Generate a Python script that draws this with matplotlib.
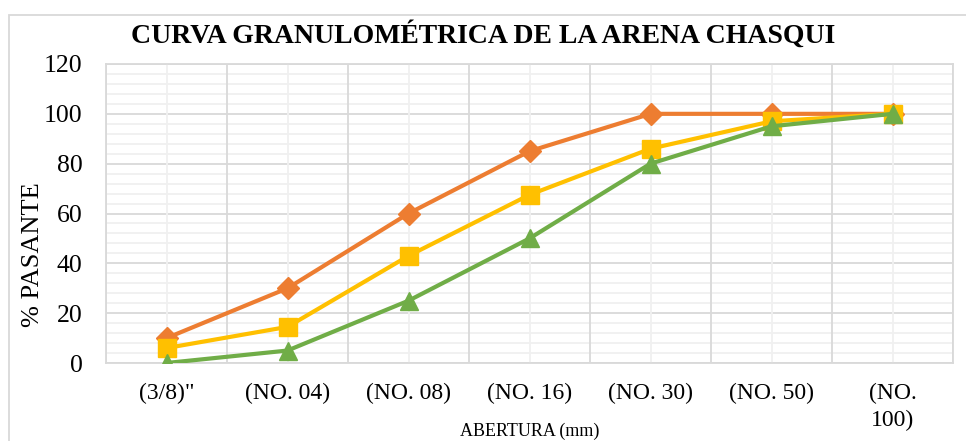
import matplotlib.pyplot as plt
from matplotlib.patches import Rectangle
from matplotlib.ticker import MultipleLocator, FixedLocator
import numpy as np

# Data
tamices = ['(3/8)"', '(NO. 04)', '(NO. 08)', '(NO. 16)', '(NO. 30)', '(NO. 50)', '(NO.\n100)']
limite_superior = [10, 30, 60, 85, 100, 100, 100]
muestra = [6, 14.5, 43, 67.5, 86, 97, 100]
limite_inferior = [0, 5, 25, 50, 80, 95, 100]

plt.rcParams['font.family'] = ['Liberation Serif', 'DejaVu Serif']

fig = plt.figure(figsize=(9.66, 4.41), dpi=100)
W, H = 966, 441

# outer chart frame (runs off the right/bottom edges)
fig.patches.append(Rectangle((9 / W, -0.05), 1.0, 1 - 15 / H + 0.05,
                             transform=fig.transFigure, fill=False,
                             edgecolor='#D9D9D9', linewidth=1.3))

ax = fig.add_axes([106 / W, 1 - 363 / H, (953 - 106) / W, (363 - 64) / H])

x = np.arange(len(tamices))
ax.plot(x, limite_superior, color='#ED7D31', lw=3, marker='D', ms=11, zorder=3)
ax.plot(x, muestra, color='#FFC000', lw=3, marker='s', ms=13, zorder=4)
ax.plot(x, limite_inferior, color='#70AD47', lw=3, marker='^', ms=13, zorder=5)

ax.set_xlim(-0.5, len(tamices) - 0.5)
ax.set_ylim(0, 120)
ax.yaxis.set_major_locator(MultipleLocator(20))
ax.xaxis.set_major_locator(FixedLocator(x))
ax.set_xticklabels(tamices)

# grid: darker at category edges / each 20, light at centres / each 4
for yv in np.arange(0, 121, 4):
    ax.axhline(yv, color='#D9D9D9' if yv % 20 == 0 else '#F0F0F0', lw=1.3, zorder=1)
for xv in np.arange(len(tamices) + 1) - 0.5:
    ax.axvline(xv, color='#D9D9D9', lw=1.3, zorder=1)
for xv in x:
    ax.axvline(xv, color='#F0F0F0', lw=1.3, zorder=1)

for s in ax.spines.values():
    s.set_color('#D9D9D9')
    s.set_linewidth(1.3)

ax.tick_params(axis='both', which='both', length=0)
ax.tick_params(axis='y', labelsize=18.5, pad=17)
ax.tick_params(axis='x', labelsize=17, pad=14)
for lab in ax.get_xticklabels():
    lab.set_verticalalignment('top')
    lab.set_linespacing(1.4)

ax.set_ylabel('% PASANTE', fontsize=19, va='center')
ax.yaxis.set_label_coords((33 - 106) / 847, (363 - 255) / 299)
ax.set_xlabel('ABERTURA (mm)', fontsize=13, va='center')
ax.xaxis.set_label_coords(0.5, (363 - 431) / 299)

fig.text(0.5, 1 - 35 / H, 'CURVA GRANULOMÉTRICA DE LA ARENA CHASQUI',
         ha='center', va='center', fontsize=20, fontweight='bold')

fig.savefig('out.png', dpi=100)
